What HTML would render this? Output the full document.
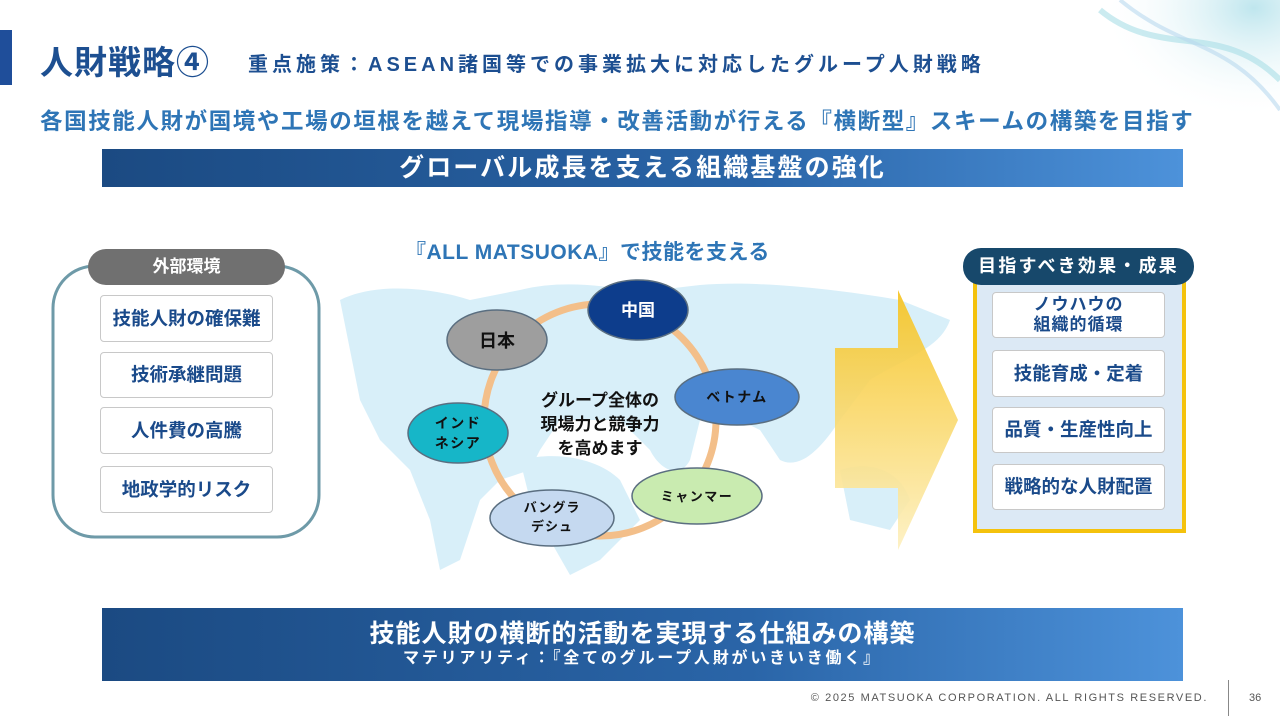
<!DOCTYPE html>
<html><head><meta charset="utf-8"><style>
*{margin:0;padding:0;box-sizing:border-box}
body{width:1280px;height:720px;position:relative;overflow:hidden;background:#fff;font-family:"Liberation Sans","Noto Sans CJK JP",sans-serif;font-weight:bold}
.abs{position:absolute}
.item{position:absolute;background:#fff;border:1px solid #c8c8c8;border-radius:4px;color:#1a4a8a;font-size:18.5px;display:flex;align-items:center;justify-content:center;text-align:center;line-height:1.25}
.banner{position:absolute;left:102px;width:1081px;background:linear-gradient(90deg,#1b4a82,#2a65a8 60%,#4d92da);color:#fff;text-align:center}
</style></head><body>
<svg class="abs" style="left:1040px;top:0" width="240" height="130"><defs><radialGradient id="sw" cx="70%" cy="30%" r="70%"><stop offset="0" stop-color="#bfe6ee"/><stop offset="1" stop-color="#fff" stop-opacity="0"/></radialGradient></defs><ellipse cx="170" cy="40" rx="110" ry="80" fill="url(#sw)"/><path d="M60 10 C120 60 180 20 240 80" stroke="#a8dde6" stroke-width="6" fill="none" opacity=".6"/><path d="M80 0 C140 50 190 40 240 110" stroke="#b9d9ee" stroke-width="4" fill="none" opacity=".6"/></svg>
<div class="abs" style="left:0;top:30px;width:12px;height:55px;background:#1f4e9a"></div>
<div class="abs" style="left:40px;top:36px;font-size:33px;color:#1d4f91;letter-spacing:1px">人財戦略④</div>
<div class="abs" style="left:248px;top:48px;font-size:20px;color:#1d4f91;letter-spacing:4px">重点施策：ASEAN諸国等での事業拡大に対応したグループ人財戦略</div>
<div class="abs" style="left:40px;top:104px;font-size:22.5px;color:#2e75b6;letter-spacing:1.6px">各国技能人財が国境や工場の垣根を越えて現場指導・改善活動が行える『横断型』スキームの構築を目指す</div>
<div class="banner" style="top:149px;height:38px;font-size:25px;line-height:38px;letter-spacing:2.1px">グローバル成長を支える組織基盤の強化</div>

<svg class="abs" style="left:0;top:0" width="1280" height="720">
<g fill="#d8eff9">
<path d="M340 300 C380 280 440 290 470 300 L520 290 C560 280 600 285 640 292 L700 285 C760 280 840 290 900 300 L950 320 C940 350 900 360 870 380 L840 420 C820 450 800 470 780 460 L760 430 C740 420 720 410 700 420 L690 460 C680 480 660 470 650 450 L620 420 L560 420 L540 450 L530 470 L500 480 L480 500 L460 560 L440 570 L430 520 L410 470 L380 440 L360 400 L350 350 Z"/>
<path d="M520 460 C560 450 600 460 620 480 L640 520 L600 560 L570 575 L550 540 L530 500 Z"/>
<path d="M840 470 C870 460 900 470 910 500 L890 530 L850 520 Z"/>
</g>
<circle cx="600" cy="420" r="116" fill="none" stroke="#f3bf8a" stroke-width="7"/>
<g stroke="#5a6e80" stroke-width="1.5">
<ellipse cx="638" cy="310" rx="50" ry="30" fill="#0d3d8c"/>
<ellipse cx="497" cy="340" rx="50" ry="30" fill="#9e9e9e"/>
<ellipse cx="737" cy="397" rx="62" ry="28" fill="#4a86d0"/>
<ellipse cx="458" cy="433" rx="50" ry="30" fill="#16b6c8"/>
<ellipse cx="697" cy="496" rx="65" ry="28" fill="#c9ebb0"/>
<ellipse cx="552" cy="518" rx="62" ry="28" fill="#c5d9f0"/>
</g>
<g font-family="Liberation Sans, Noto Sans CJK JP, sans-serif" font-weight="bold" text-anchor="middle">
<text x="638" y="316" fill="#fff" font-size="17">中国</text>
<text x="497" y="347" fill="#111" font-size="18">日本</text>
<text x="737" y="402" fill="#111" font-size="14" letter-spacing="1.5">ベトナム</text>
<text x="458" y="428" fill="#111" font-size="14" letter-spacing="1.5">インド</text>
<text x="458" y="448" fill="#111" font-size="14" letter-spacing="1.5">ネシア</text>
<text x="697" y="501" fill="#111" font-size="13" letter-spacing="1.5">ミャンマー</text>
<text x="552" y="512" fill="#111" font-size="13" letter-spacing="1">バングラ</text>
<text x="552" y="531" fill="#111" font-size="13" letter-spacing="1">デシュ</text>
<text x="600" y="406" fill="#111" font-size="17">グループ全体の</text>
<text x="600" y="430" fill="#111" font-size="17">現場力と競争力</text>
<text x="600" y="454" fill="#111" font-size="17">を高めます</text>
</g>
<defs><linearGradient id="ar" x1="0" y1="0" x2="0" y2="1"><stop offset="0" stop-color="#f6c21c"/><stop offset="1" stop-color="#fdf0c0"/></linearGradient></defs>
<path d="M835 348 L898 348 L898 290 L958 420 L898 550 L898 488 L835 488 Z" fill="url(#ar)" opacity=".9"/>
<rect x="53" y="266" width="266" height="271" rx="42" fill="none" stroke="#6e9aa8" stroke-width="3"/>
<rect x="975" y="272" width="209" height="259" fill="#dce9f5" stroke="#f4c20d" stroke-width="4"/>
</svg>
<div class="abs" style="left:405px;top:236px;font-size:21px;color:#2e75b6;letter-spacing:0.5px">『ALL MATSUOKA』で技能を支える</div>

<div class="abs" style="left:88px;top:249px;width:197px;height:36px;border-radius:18px;background:#707070;color:#fff;font-size:17px;line-height:36px;text-align:center">外部環境</div>
<div class="item" style="left:100px;top:295px;width:173px;height:47px">技能人財の確保難</div>
<div class="item" style="left:100px;top:352px;width:173px;height:46px">技術承継問題</div>
<div class="item" style="left:100px;top:407px;width:173px;height:47px">人件費の高騰</div>
<div class="item" style="left:100px;top:466px;width:173px;height:47px">地政学的リスク</div>

<div class="abs" style="left:963px;top:248px;width:231px;height:37px;border-radius:18px;background:#17486b;color:#fff;font-size:18px;line-height:37px;text-align:center;letter-spacing:2.2px">目指すべき効果・成果</div>
<div class="item" style="left:992px;top:292px;width:173px;height:46px;font-size:17px;line-height:1.2;letter-spacing:1px">ノウハウの<br>組織的循環</div>
<div class="item" style="left:992px;top:350px;width:173px;height:47px">技能育成・定着</div>
<div class="item" style="left:992px;top:407px;width:173px;height:46px">品質・生産性向上</div>
<div class="item" style="left:992px;top:464px;width:173px;height:46px">戦略的な人財配置</div>

<div class="banner" style="top:608px;height:73px">
<div style="font-size:25px;margin-top:11px;line-height:30px;letter-spacing:1px">技能人財の横断的活動を実現する仕組みの構築</div>
<div style="font-size:16px;line-height:20px;letter-spacing:2.8px">マテリアリティ：『全てのグループ人財がいきいき働く』</div>
</div>
<div class="abs" style="right:72px;top:692px;font-size:11px;color:#555;font-weight:normal;letter-spacing:1.6px">© 2025 MATSUOKA CORPORATION. ALL RIGHTS RESERVED.</div>
<div class="abs" style="left:1228px;top:680px;width:1px;height:36px;background:#888"></div>
<div class="abs" style="left:1249px;top:692px;font-size:11px;color:#555;font-weight:normal">36</div>
</body></html>
